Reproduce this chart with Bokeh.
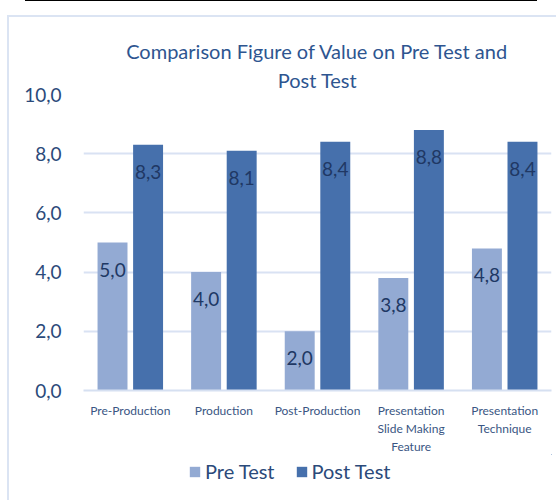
from bokeh.plotting import figure
from bokeh.models import (ColumnDataSource, LabelSet, Legend, LegendItem, FixedTicker,
                          Title, Div, Range1d)
from bokeh.layouts import column
from bokeh.core.properties import value
from bokeh.transform import dodge
from bokeh.embed import file_html
from bokeh.resources import INLINE

categories = ["Pre-Production", "Production", "Post-Production",
              "Presentation\nSlide Making\nFeature", "Presentation\nTechnique"]
pre_test = [5.0, 4.0, 2.0, 3.8, 4.8]
post_test = [8.3, 8.1, 8.4, 8.8, 8.4]
y_ticks = [0, 2, 4, 6, 8, 10]
y_tick_labels = ["0,0", "2,0", "4,0", "6,0", "8,0", "10,0"]
series_names = ["Pre Test", "Post Test"]
title_lines = ["Comparison Figure of Value on Pre Test and", "Post Test"]


def fmt(v):
    return f"{v:.1f}".replace(".", ",")


src = ColumnDataSource(dict(
    cat=categories,
    pre=pre_test,
    post=post_test,
    pre_lbl=[fmt(v) for v in pre_test],
    post_lbl=[fmt(v) for v in post_test],
))

FONT = "Lato"
PRE_COLOR = "#93aad3"
POST_COLOR = "#4670ac"
BORDER = "2px solid #dbe4f3"

p = figure(x_range=categories, y_range=(0, 10), width=549, height=439, title=None,
           output_backend="svg", toolbar_location=None,
           min_border_left=74, min_border_right=7, min_border_top=77, min_border_bottom=55)
p.outline_line_color = None
p.background_fill_color = "white"
p.border_fill_color = "white"
p.styles = {"margin-left": "7px", "border-top": BORDER, "border-left": BORDER}

for txt, so in [(title_lines[1], 6), (title_lines[0], 0)]:
    p.add_layout(Title(text=txt, align="center", text_font=FONT, text_font_size="20px",
                       text_font_style="normal", text_color="#2e5590", standoff=so), "above")

r_pre = p.vbar(x=dodge("cat", -0.19, range=p.x_range), top="pre", width=0.32,
               source=src, fill_color=PRE_COLOR, line_color=None)
r_post = p.vbar(x=dodge("cat", 0.19, range=p.x_range), top="post", width=0.32,
                source=src, fill_color=POST_COLOR, line_color=None)

for ycol, lcol, off in [("pre", "pre_lbl", -0.19), ("post", "post_lbl", 0.19)]:
    ls = LabelSet(x=dodge("cat", off, range=p.x_range), y=ycol, text=lcol, source=src,
                  text_align="center", text_baseline="middle", y_offset=-27,
                  text_font=value(FONT), text_font_size=value("19px"), text_color="#203864")
    p.add_layout(ls)

p.yaxis.ticker = FixedTicker(ticks=y_ticks)
p.yaxis.major_label_overrides = {t: l for t, l in zip(y_ticks, y_tick_labels)}
p.yaxis.axis_line_color = None
p.yaxis.major_tick_line_color = None
p.yaxis.minor_tick_line_color = None
p.yaxis.major_label_standoff = 16
p.yaxis.major_label_text_font = FONT
p.yaxis.major_label_text_font_size = "19px"
p.yaxis.major_label_text_color = "#2b4a7a"

p.xaxis.axis_line_color = "#d6e0f1"
p.xaxis.axis_line_width = 2
p.xaxis.major_tick_line_color = None
p.xaxis.minor_tick_line_color = None
p.xaxis.major_label_standoff = 6
p.xaxis.major_label_text_font = FONT
p.xaxis.major_label_text_font_size = "12px"
p.xaxis.major_label_text_color = "#3a5683"

p.xgrid.grid_line_color = None
p.ygrid.grid_line_color = "#d9e2f3"
p.ygrid.grid_line_width = 2

# legend strip below the chart (swatch glyphs have zero height, only the legend shows them)
p2 = figure(width=549, height=46, x_range=Range1d(0, 1), y_range=Range1d(0, 1),
            x_axis_type=None, y_axis_type=None, output_backend="svg", toolbar_location=None,
            min_border=0)
p2.outline_line_color = None
p2.grid.visible = False
p2.styles = {"margin-left": "7px", "border-left": BORDER}
d_pre = p2.vbar(x="pre", bottom="pre", top="pre", width=0.1, source=src,
                fill_color=PRE_COLOR, line_color=None)
d_post = p2.vbar(x="post", bottom="post", top="post", width=0.1, source=src,
                 fill_color=POST_COLOR, line_color=None)
legend = Legend(items=[LegendItem(label=series_names[0], renderers=[d_pre]),
                       LegendItem(label=series_names[1], renderers=[d_post])],
                orientation="horizontal", location=(105, 17),
                glyph_width=13, glyph_height=13, label_standoff=4, spacing=20,
                label_text_font=FONT, label_text_font_size="20px",
                label_text_color="#2b4a7a", border_line_color=None,
                background_fill_alpha=0, padding=0, margin=0)
p2.add_layout(legend, "center")

top_line = Div(text='<div style="width:512px;height:1px;background:#000;margin:0 0 0 25px;padding:0"></div>',
               width=560, height=15, margin=0,
               styles={"padding": "0", "overflow": "hidden", "font-size": "0px", "line-height": "0"})
root = column(top_line, p, p2, spacing=0)

open("out.html", "w").write(file_html(root, INLINE))
